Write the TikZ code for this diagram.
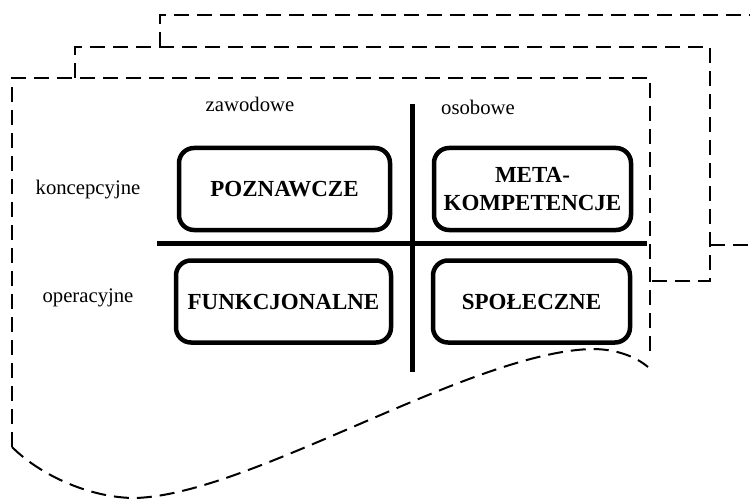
\documentclass[tikz,border=0pt]{standalone}
\usepackage{fontspec}
\setmainfont{Liberation Serif}
\tikzset{
	sheet/.style={line width=2pt, dash pattern=on 15pt off 8pt},
	kbox/.style={draw, line width=4.5pt, rounded corners=15pt, minimum height=82pt, inner sep=0pt, align=center, font=\fontsize{23}{28}\selectfont\bfseries},
	axisline/.style={line width=5pt},
	lbl/.style={font=\fontsize{20.7}{24}\selectfont}
}
\begin{document}
\begin{tikzpicture}[x=1pt, y=-1pt]
	\useasboundingbox (0, 0) rectangle (750, 500);
	% back sheets
	\draw[sheet] (160, 47) -- (160, 15) -- (752, 15);
	\draw[sheet] (710, 245) -- (752, 245);
	\draw[sheet] (75, 78) -- (75, 47) -- (710, 47) -- (710, 281) -- (650, 281);
	% front sheet
	\draw[sheet] (12, 447) -- (12, 78) -- (650, 78) -- (650, 358);
	\draw[sheet] (12, 447) .. controls (40, 475) and (90, 498) .. (135, 498) .. controls (250, 495) and (470, 352) .. (592, 349) .. controls (615, 349) and (635, 356) .. (648, 367);
	\draw[axisline] (157, 243) -- (647, 243);
	\draw[axisline] (412, 104) -- (412, 372);
	\node[lbl] (zaw) at (250, 104) {zawodowe};
	\node[lbl] (osob) at (478, 107) {osobowe};
	\node[lbl] (konc) at (88, 190) {koncepcyjne};
	\node[lbl] (oper) at (88, 298) {operacyjne};
	\node[kbox, minimum width=211pt] (pozn) at (284.5, 189) {POZNAWCZE};
	\node[kbox, minimum width=197pt] (meta) at (532.5, 189) {META-\\KOMPETENCJE};
	\node[kbox, minimum width=215pt] (funk) at (283.5, 301.5) {FUNKCJONALNE};
	\node[kbox, minimum width=197pt] (spol) at (531.5, 301.5) {SPOŁECZNE};
\end{tikzpicture}
\end{document}
